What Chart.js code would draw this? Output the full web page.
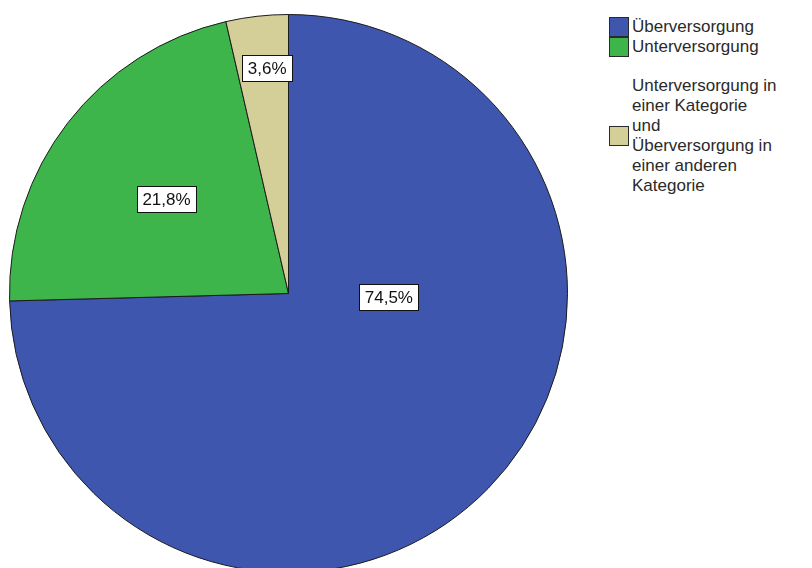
<!DOCTYPE html>
<html>
<head>
<meta charset="utf-8">
<script src="https://cdn.jsdelivr.net/npm/chart.js@4"></script>
<style>
  html, body { margin: 0; padding: 0; background: #fff; overflow: hidden; width: 812px; height: 568px; }
  #pieBox { position: absolute; left: 9px; top: 14px; width: 559px; height: 559px; }
  #legend { position: absolute; left: 609px; top: 17px; font-family: "Liberation Sans", Arial, sans-serif; font-size: 17px; color: #2a2a2a; }
  .item { display: flex; align-items: center; }
  .swatch { width: 18px; height: 18px; border: 1px solid #2a2a2a; margin-right: 3px; flex: none; }
  .text { white-space: pre-line; line-height: 20px; }
</style>
</head>
<body>
<div id="pieBox"><canvas id="pieChart"></canvas></div>
<div id="legend"></div>
<script>
// Verteilung der Versorgung (Anteile in Prozent)
const categories = [
    "Überversorgung",
    "Unterversorgung",
    "Unterversorgung in\neiner Kategorie\nund\nÜberversorgung in\neiner anderen\nKategorie"
];
const shares = [74.5, 21.8, 3.6];
const sliceColors = ["#3f56ae", "#3db54a", "#d4cf98"];

// where the value boxes sit: fraction of the radius, optional fixed angle (deg from 12 o'clock)
const labelPlacement = [
    { f: 0.36, angle: 92.3 },
    { f: 0.553, angle: null },
    { f: 0.81, angle: 354.6 }
];

const fmt = v => v.toFixed(1).replace('.', ',') + '%';

// Draw white boxed percentage labels on the slices
const valueBoxes = {
    id: 'valueBoxes',
    afterDatasetsDraw(chart) {
        const ctx = chart.ctx;
        const meta = chart.getDatasetMeta(0);
        ctx.save();
        ctx.font = '17px "Liberation Sans", Arial, sans-serif';
        ctx.textAlign = 'center';
        ctx.textBaseline = 'middle';
        meta.data.forEach((arc, i) => {
            const p = arc.getProps(['x', 'y', 'startAngle', 'endAngle', 'outerRadius'], true);
            const place = labelPlacement[i];
            let a = (p.startAngle + p.endAngle) / 2;
            if (place.angle !== null) a = (place.angle - 90) * Math.PI / 180;
            const cx = p.x + Math.cos(a) * p.outerRadius * place.f;
            const cy = p.y + Math.sin(a) * p.outerRadius * place.f;
            const txt = fmt(shares[i]);
            const w = Math.round(ctx.measureText(txt).width + 12);
            const h = 27;
            const left = Math.round(cx - w / 2), top = Math.round(cy - h / 2);
            ctx.fillStyle = '#fff';
            ctx.fillRect(left, top, w, h);
            ctx.strokeStyle = '#111';
            ctx.lineWidth = 1;
            ctx.strokeRect(left + 0.5, top + 0.5, w - 1, h - 1);
            ctx.fillStyle = '#111';
            ctx.fillText(txt, cx, cy + 1);
        });
        ctx.restore();
    }
};

const chart = new Chart(document.getElementById('pieChart'), {
    type: 'pie',
    data: {
        labels: categories,
        datasets: [{
            data: shares,
            backgroundColor: sliceColors,
            borderColor: '#1c1c1c',
            borderWidth: 1
        }]
    },
    options: {
        responsive: true,
        maintainAspectRatio: false,
        animation: false,
        layout: { padding: 0 },
        plugins: {
            legend: { display: false },
            tooltip: { enabled: false }
        }
    },
    plugins: [valueBoxes]
});

// Legend on the right
const legend = document.getElementById('legend');
categories.forEach((name, i) => {
    const row = document.createElement('div');
    row.className = 'item';
    if (i === 2) row.style.marginTop = '19px';
    const sw = document.createElement('div');
    sw.className = 'swatch';
    sw.style.background = sliceColors[i];
    const tx = document.createElement('div');
    tx.className = 'text';
    tx.textContent = name;
    row.appendChild(sw);
    row.appendChild(tx);
    legend.appendChild(row);
});
</script>
</body>
</html>
